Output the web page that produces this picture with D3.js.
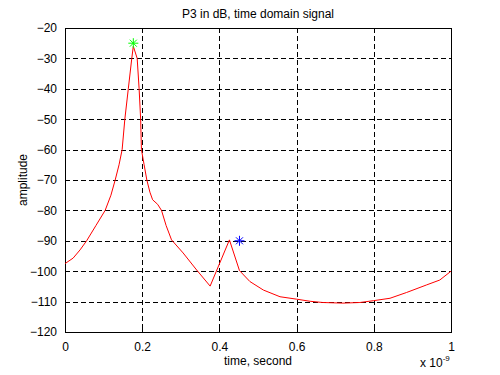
<!DOCTYPE html>
<html>
<head>
<meta charset="utf-8">
<script src="https://cdn.jsdelivr.net/npm/d3@7"></script>
<style>
  body { margin: 0; background: #fff; }
  svg text { font-family: "Liberation Sans", Arial, sans-serif; font-size: 12px; fill: #000; }
</style>
</head>
<body>
<svg id="chart" width="500" height="375"></svg>
<script>
'use strict';
/*
 *	Data (time in units of 1e-9 s, amplitude in dB)
 */
var timeVals = [0, 0.021, 0.039, 0.056, 0.080, 0.104, 0.119, 0.130, 0.140, 0.148, 0.155, 0.164, 0.173, 0.177,
	0.187, 0.192, 0.196, 0.198, 0.205, 0.212, 0.220, 0.227, 0.240, 0.250, 0.262, 0.276, 0.306, 0.341, 0.376,
	0.426, 0.452, 0.479, 0.514, 0.557, 0.600, 0.635, 0.668, 0.720, 0.764, 0.799, 0.842, 0.885, 0.937, 0.971, 1.0];
var ampVals = [-97.5, -95.7, -93, -90, -85, -80, -75, -70, -65, -60, -50, -40, -30, -26,
	-30, -40, -50, -60, -65, -70, -74, -76.5, -78, -80, -85, -89.7, -94, -99.6, -104.9,
	-89.7, -99.8, -103.4, -106.2, -108.4, -109.2, -109.9, -110.3, -110.5, -110.3, -109.7, -108.9, -107, -104.5, -102.9, -100];
var markers = [
	{t: 0.177, a: -25, color: "#00ff00"},
	{t: 0.452, a: -90, color: "#0000ff"}
];
var xTicks = [0, 0.2, 0.4, 0.6, 0.8, 1];
var yTicks = [-20, -30, -40, -50, -60, -70, -80, -90, -100, -110, -120];

/*
 *	Layout
 */
var margin = {left: 65, right: 49, top: 28, bottom: 43};
var W = 500, H = 375;
var iw = W - margin.left - margin.right;
var ih = H - margin.top - margin.bottom;

var svg = d3.select("#chart");
var g = svg.append("g").attr("transform", "translate(" + margin.left + "," + margin.top + ")");

var x = d3.scaleLinear().domain([0, 1]).range([0, iw]);
var y = d3.scaleLinear().domain([-120, -20]).range([ih, 0]);

// grid
g.append("g").selectAll("line").data(xTicks.slice(1, -1)).join("line")
	.attr("x1", function(d){ return Math.round(x(d)) + 0.5; })
	.attr("x2", function(d){ return Math.round(x(d)) + 0.5; })
	.attr("y1", 0).attr("y2", ih)
	.attr("stroke", "#000").attr("stroke-dasharray", "5,3").attr("shape-rendering", "crispEdges");
g.append("g").selectAll("line").data(yTicks.slice(1, -1)).join("line")
	.attr("y1", function(d){ return Math.round(y(d)) + 0.5; })
	.attr("y2", function(d){ return Math.round(y(d)) + 0.5; })
	.attr("x1", 0).attr("x2", iw)
	.attr("stroke", "#000").attr("stroke-dasharray", "5,3").attr("shape-rendering", "crispEdges");

// axes
var xAxis = g.append("g").attr("transform", "translate(0," + ih + ")")
	.call(d3.axisBottom(x).tickValues(xTicks).tickSize(-5).tickPadding(10).tickFormat(d3.format("")));
var yAxis = g.append("g")
	.call(d3.axisLeft(y).tickValues(yTicks).tickSize(-5).tickPadding(8).tickFormat(d3.format("")));
[xAxis, yAxis].forEach(function(a){
	a.select(".domain").remove();
	a.selectAll("line").attr("stroke", "#000").attr("shape-rendering", "crispEdges");
	a.selectAll("text").style("font-size", "12px").attr("font-family", null);
});
xAxis.selectAll("text").attr("dy", "0.71em");

// box
g.append("rect").attr("x", 0.5).attr("y", 0.5).attr("width", iw).attr("height", ih)
	.attr("fill", "none").attr("stroke", "#000").attr("shape-rendering", "crispEdges");

// signal
var line = d3.line()
	.x(function(d, i){ return x(timeVals[i]); })
	.y(function(d){ return y(d); });
g.append("path").datum(ampVals)
	.attr("d", line).attr("fill", "none").attr("stroke", "#ff0000").attr("stroke-width", 1);

// asterisk markers
var mk = g.append("g").selectAll("g").data(markers).join("g")
	.attr("transform", function(d){ return "translate(" + x(d.t) + "," + y(d.a) + ")"; });
var r = 5;
[[-r, 0, r, 0], [0, -r, 0, r], [-3.5, -3.5, 3.5, 3.5], [-3.5, 3.5, 3.5, -3.5]].forEach(function(s){
	mk.append("line").attr("x1", s[0]).attr("y1", s[1]).attr("x2", s[2]).attr("y2", s[3])
		.attr("stroke", function(d){ return d.color; }).attr("stroke-width", 1);
});

// labels
svg.append("text").attr("x", margin.left + iw / 2).attr("y", 18).attr("text-anchor", "middle")
	.text("P3 in dB, time domain signal");
svg.append("text").attr("x", margin.left + iw / 2).attr("y", 365).attr("text-anchor", "middle")
	.text("time, second");
svg.append("text").attr("transform", "translate(27," + (margin.top + ih / 2) + ") rotate(-90)")
	.attr("text-anchor", "middle").text("amplitude");
var sc = svg.append("text").attr("x", 420).attr("y", 367);
sc.append("tspan").text("x 10");
sc.append("tspan").attr("dy", -6).style("font-size", "8px").text("-9");
</script>
</body>
</html>
